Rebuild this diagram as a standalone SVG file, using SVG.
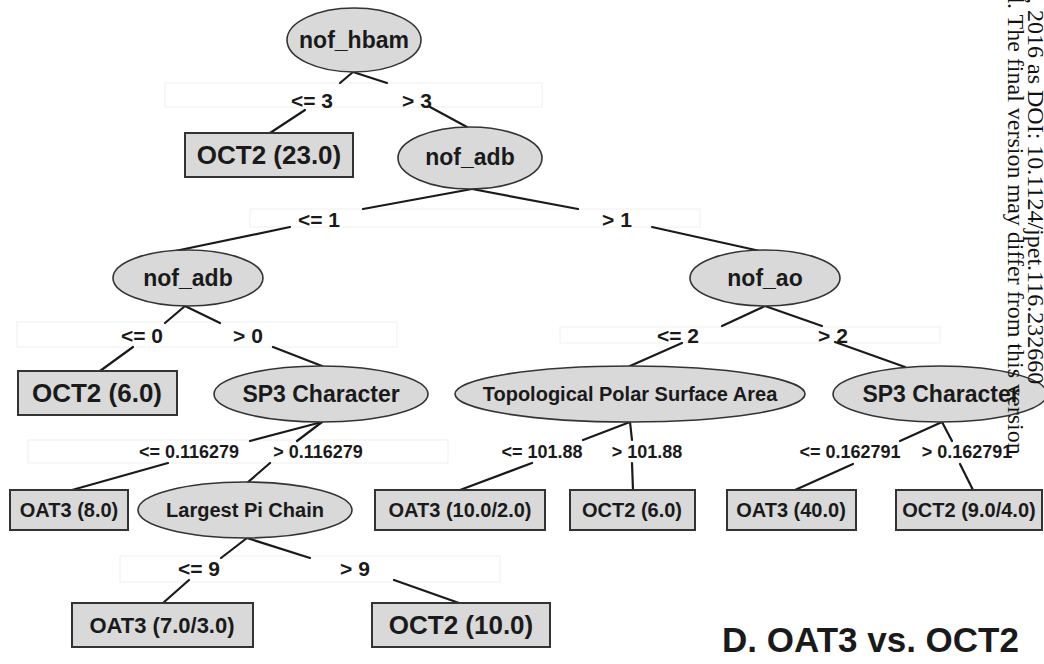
<svg xmlns="http://www.w3.org/2000/svg" width="1044" height="664" viewBox="0 0 1044 664">
<style>
.bg{fill:#ffffff}
.band{fill:#ffffff;stroke:#f0f0f0;stroke-width:1}
.nd{fill:#d9d9d9;stroke:#333333;stroke-width:1.6}
.lf{fill:#d9d9d9;stroke:#333333;stroke-width:2}
.ln{stroke:#1a1a1a;stroke-width:2.2;fill:none;stroke-linecap:round}
text{font-family:"Liberation Sans",Arial,sans-serif;font-weight:bold;fill:#1a1a1a;text-anchor:middle;dominant-baseline:central}
.n23{font-size:23px}
.n20{font-size:20px}
.l26{font-size:26px}
.l22{font-size:22px}
.l20{font-size:20px}
.e21{font-size:21px}
.e18{font-size:18px}
.wm{font-family:"Liberation Serif","Times New Roman",serif;font-weight:normal;font-size:24px;text-anchor:start;dominant-baseline:alphabetic;fill:#111111}
.title{font-size:35px;text-anchor:start;dominant-baseline:alphabetic}
</style>
<rect class="bg" x="0" y="0" width="1044" height="664"/>

<g id="bands">
<rect class="band" x="165" y="83" width="377" height="24"/>
<rect class="band" x="250" y="209" width="450" height="18"/>
<rect class="band" x="17" y="322" width="380" height="25"/>
<rect class="band" x="560" y="327" width="380" height="16"/>
<rect class="band" x="28" y="440" width="420" height="23"/>
<rect class="band" x="120" y="556" width="380" height="26"/>
</g>

<g id="connectors">
<path class="ln" d="M353 72 L340 83 M305 110 L270 133"/>
<path class="ln" d="M353 72 L387 83 M430 107 L467 127"/>
<path class="ln" d="M472 189 L363 209 M290 227 L175 251"/>
<path class="ln" d="M472 189 L578 209 M652 227 L760 251"/>
<path class="ln" d="M185 306 L165 323 M133 347 L100 371"/>
<path class="ln" d="M185 306 L220 323 M273 347 L322 366"/>
<path class="ln" d="M765 306 L722 326 M682 343 L630 366"/>
<path class="ln" d="M765 306 L822 326 M835 342 L905 367"/>
<path class="ln" d="M322 422 L250 441 M168 463 L72 490"/>
<path class="ln" d="M322 422 L297 441 M270 463 L247 483"/>
<path class="ln" d="M630 422 L583 440 M532 463 L460 490"/>
<path class="ln" d="M630 422 L632 440 M632 463 L633 490"/>
<path class="ln" d="M942 422 L900 441 M853 464 L795 490"/>
<path class="ln" d="M942 422 L952 441 M960 464 L973 490"/>
<path class="ln" d="M247 538 L221 558 M189 580 L163 603"/>
<path class="ln" d="M247 538 L310 558 M394 580 L459 603"/>
</g>

<g id="edge-labels">
<text class="e21" x="312" y="100">&lt;= 3</text>
<text class="e21" x="417" y="100">&gt; 3</text>
<text class="e21" x="319" y="219">&lt;= 1</text>
<text class="e21" x="617" y="219">&gt; 1</text>
<text class="e21" x="142" y="335">&lt;= 0</text>
<text class="e21" x="248" y="335">&gt; 0</text>
<text class="e21" x="678" y="335">&lt;= 2</text>
<text class="e21" x="833" y="335">&gt; 2</text>
<text class="e18" x="189" y="452">&lt;= 0.116279</text>
<text class="e18" x="318" y="452">&gt; 0.116279</text>
<text class="e18" x="542" y="452">&lt;= 101.88</text>
<text class="e18" x="647" y="452">&gt; 101.88</text>
<text class="e18" x="850" y="452">&lt;= 0.162791</text>
<text class="e18" x="967" y="452">&gt; 0.162791</text>
<text class="e21" x="199" y="568">&lt;= 9</text>
<text class="e21" x="355" y="568">&gt; 9</text>
</g>

<g id="n-nof_hbam"><ellipse class="nd" cx="354" cy="40" rx="67" ry="32"/><text class="n23" x="354" y="40">nof_hbam</text></g>
<g id="n-oct2-23"><rect class="lf" x="185" y="133" width="168" height="44"/><text class="l26" x="269" y="155">OCT2 (23.0)</text></g>
<g id="n-nof_adb-1"><ellipse class="nd" cx="470" cy="158" rx="72" ry="31"/><text class="n23" x="470" y="157">nof_adb</text></g>
<g id="n-nof_adb-2"><ellipse class="nd" cx="188" cy="278" rx="75" ry="28"/><text class="n23" x="188" y="278">nof_adb</text></g>
<g id="n-nof_ao"><ellipse class="nd" cx="765" cy="278" rx="75" ry="28"/><text class="n23" x="765" y="278">nof_ao</text></g>
<g id="n-oct2-6a"><rect class="lf" x="18" y="371" width="159" height="44"/><text class="l26" x="97" y="393">OCT2 (6.0)</text></g>
<g id="n-sp3-left"><ellipse class="nd" cx="321" cy="394" rx="107" ry="28"/><text class="n23" x="321" y="394">SP3 Character</text></g>
<g id="n-tpsa"><ellipse class="nd" cx="630" cy="394" rx="175" ry="28"/><text class="n20" x="630" y="394">Topological Polar Surface Area</text></g>
<g id="n-sp3-right"><ellipse class="nd" cx="940" cy="394" rx="107" ry="28"/><text class="n23" x="941" y="394">SP3 Character</text></g>
<g id="n-oat3-8"><rect class="lf" x="10" y="490" width="118" height="40"/><text class="l20" x="69" y="510">OAT3 (8.0)</text></g>
<g id="n-lpc"><ellipse class="nd" cx="245" cy="510" rx="107" ry="28"/><text class="n20" x="245" y="510">Largest Pi Chain</text></g>
<g id="n-oat3-10-2"><rect class="lf" x="375" y="490" width="170" height="40"/><text class="l20" x="460" y="510">OAT3 (10.0/2.0)</text></g>
<g id="n-oct2-6b"><rect class="lf" x="570" y="490" width="125" height="40"/><text class="l20" x="632" y="510">OCT2 (6.0)</text></g>
<g id="n-oat3-40"><rect class="lf" x="727" y="490" width="129" height="40"/><text class="l20" x="791" y="510">OAT3 (40.0)</text></g>
<g id="n-oct2-9-4"><rect class="lf" x="896" y="490" width="146" height="40"/><text class="l20" x="969" y="510">OCT2 (9.0/4.0)</text></g>
<g id="n-oat3-7-3"><rect class="lf" x="72" y="603" width="181" height="44"/><text class="l22" x="162" y="625">OAT3 (7.0/3.0)</text></g>
<g id="n-oct2-10"><rect class="lf" x="372" y="603" width="178" height="44"/><text class="l26" x="461" y="625">OCT2 (10.0)</text></g>

<text class="title" x="722" y="652">D. OAT3 vs. OCT2</text>

<text class="wm" transform="translate(1028,-2) rotate(90)">, 2016 as DOI: 10.1124/jpet.116.232660</text>
<text class="wm" transform="translate(1008,-9) rotate(90)">d. The final version may differ from this version</text>
</svg>
